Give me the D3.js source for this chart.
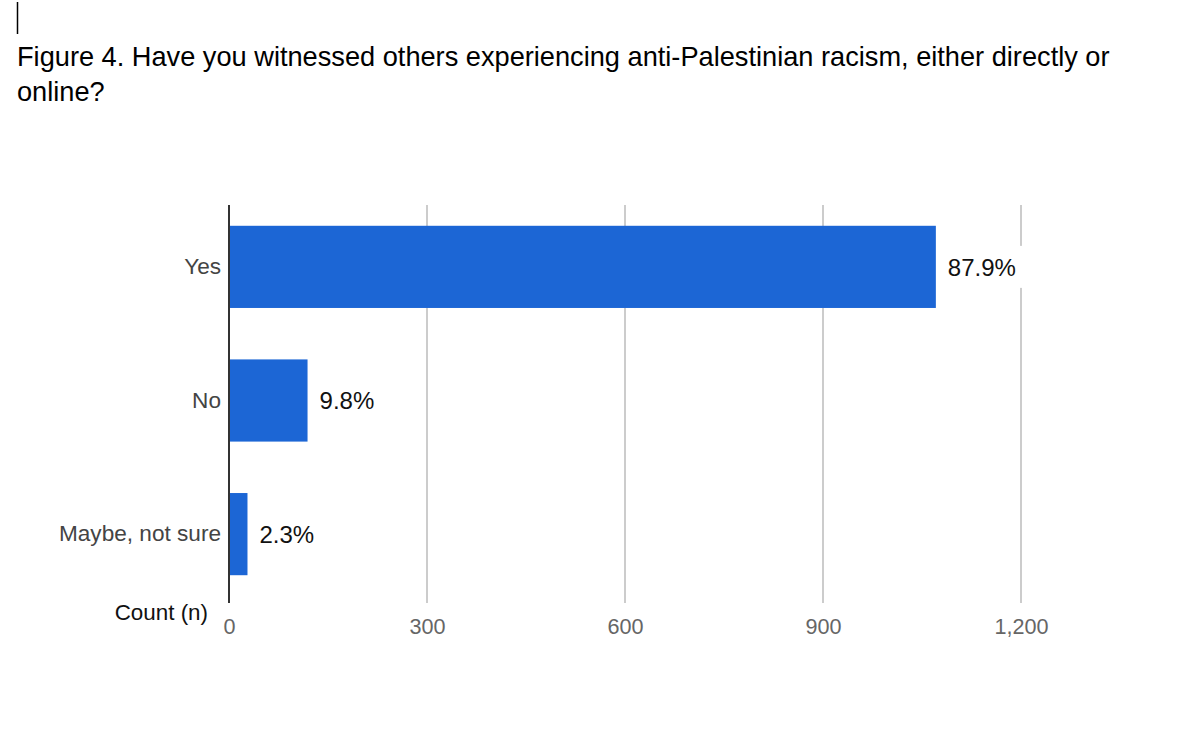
<!DOCTYPE html>
<html>
<head>
<meta charset="utf-8">
<script src="https://cdn.jsdelivr.net/npm/d3@7"></script>
<style>
  html, body { margin: 0; padding: 0; background: #fff; }
  svg { display: block; font-family: "Liberation Sans", Arial, Helvetica, sans-serif; }
</style>
</head>
<body>
<svg id="chart" width="1199" height="740"></svg>
<script>
const categories = ["Yes", "No", "Maybe, not sure"];
const counts = [1071, 119, 28];
const percentLabels = ["87.9%", "9.8%", "2.3%"];
const tickValues = [0, 300, 600, 900, 1200];
const titleLines = [
  "Figure 4. Have you witnessed others experiencing anti-Palestinian racism, either directly or",
  "online?"
];
const axisTitle = "Count (n)";

const svg = d3.select("#chart");

// cursor mark
svg.append("line").attr("x1", 17.5).attr("x2", 17.5).attr("y1", 2).attr("y2", 34)
  .attr("stroke", "#000").attr("stroke-width", 1.5);

// title
svg.append("g").selectAll("text").data(titleLines).join("text")
  .attr("x", 17).attr("y", (d, i) => 66 + i * 35)
  .attr("font-size", 27.2).attr("fill", "#000")
  .text(d => d);

const x = d3.scaleLinear().domain([0, 1200]).range([229, 1021]);
const y = d3.scaleBand().domain(categories).range([200, 601]).paddingInner(0.385).paddingOuter(0.193);

// gridlines
svg.append("g").selectAll("line").data(tickValues.filter(d => d > 0)).join("line")
  .attr("x1", d => x(d)).attr("x2", d => x(d))
  .attr("y1", 205).attr("y2", 603)
  .attr("stroke", "#cccccc").attr("stroke-width", 2);

// bars
svg.append("g").selectAll("rect").data(categories).join("rect")
  .attr("x", x(0)).attr("y", d => y(d))
  .attr("width", (d, i) => x(counts[i]) - x(0))
  .attr("height", y.bandwidth())
  .attr("fill", "#1c66d5");

// value labels with white background
const vl = svg.append("g").selectAll("g").data(categories).join("g")
  .attr("transform", (d, i) => `translate(${x(counts[i]) + 12},${y(d) + y.bandwidth() / 2})`);
vl.append("rect").attr("x", -4).attr("y", -21).attr("height", 42)
  .attr("width", (d, i) => percentLabels[i].length * 14.5 + 8)
  .attr("fill", "#fff");
vl.append("text").attr("dy", "0.36em").attr("font-size", 24).attr("fill", "#111")
  .text((d, i) => percentLabels[i]);

// y axis
const yAxis = d3.axisLeft(y).tickSize(0).tickPadding(8);
const ga = svg.append("g").attr("transform", `translate(${x(0)},0)`).call(yAxis);
ga.select(".domain").remove();
ga.selectAll("text").attr("font-size", 22.6).attr("fill", "#444")
  .attr("font-family", "Liberation Sans, Arial, sans-serif");

svg.append("line").attr("x1", x(0)).attr("x2", x(0)).attr("y1", 205).attr("y2", 603)
  .attr("stroke", "#333").attr("stroke-width", 2);

// x axis tick labels
const xAxis = d3.axisBottom(x).tickValues(tickValues).tickSize(0).tickPadding(0)
  .tickFormat(d3.format(","));
const gx = svg.append("g").attr("transform", "translate(0,634)").call(xAxis);
gx.select(".domain").remove();
gx.selectAll("text").attr("font-size", 21.6).attr("fill", "#666").attr("dy", "0")
  .attr("font-family", "Liberation Sans, Arial, sans-serif");

// axis title
svg.append("text").attr("x", 208).attr("y", 620).attr("text-anchor", "end")
  .attr("font-size", 22.4).attr("fill", "#111").text(axisTitle);
</script>
</body>
</html>
